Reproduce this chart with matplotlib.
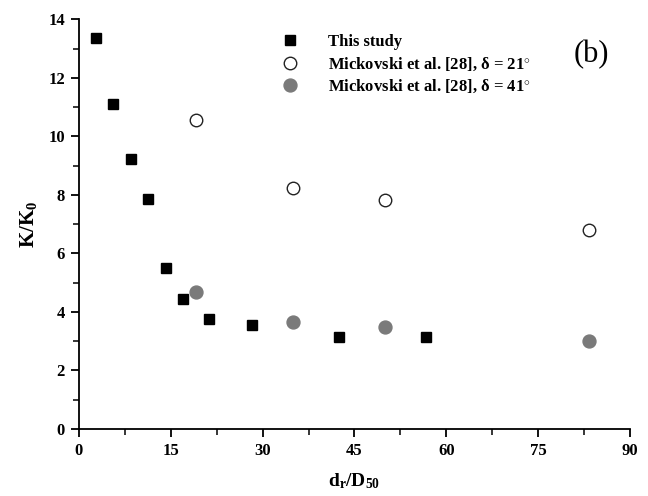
import matplotlib
matplotlib.use("Agg")
import matplotlib.pyplot as plt
from matplotlib.ticker import MultipleLocator

plt.rcParams['font.family'] = ['Liberation Serif', 'DejaVu Serif']
plt.rcParams['mathtext.fontset'] = 'custom'
plt.rcParams['mathtext.rm'] = 'Liberation Serif:bold'
plt.rcParams['mathtext.bf'] = 'Liberation Serif:bold'
plt.rcParams['mathtext.it'] = 'Liberation Serif:bold'

# Data
this_x = [2.75, 5.6, 8.45, 11.3, 14.15, 17.0, 21.3, 28.3, 42.5, 56.7]
this_y = [13.37, 11.09, 9.23, 7.85, 5.51, 4.45, 3.76, 3.56, 3.15, 3.13]
mick_x = [19.1, 34.95, 49.95, 83.25]
mick21_y = [10.57, 8.24, 7.82, 6.80]
mick41_y = [4.66, 3.65, 3.47, 3.01]

labels = ['This study',
          r'Mickovski et al. [28], $\delta$ = 21$^{\circ}$',
          r'Mickovski et al. [28], $\delta$ = 41$^{\circ}$']

fig = plt.figure(figsize=(6.48, 4.96), dpi=100)
ax = fig.add_axes([0.1219, 0.1355, 0.8503, 0.8256])

ax.plot(this_x, this_y, ls='none', marker='s', ms=7.2, color='black', label=labels[0])
ax.plot(mick_x, mick21_y, ls='none', marker='o', ms=9, mfc='white', mec='#222222', mew=1.0, label=labels[1])
ax.plot(mick_x, mick41_y, ls='none', marker='o', ms=9.3, mfc='#7a7a7a', mec='#7a7a7a', label=labels[2])

ax.set_xlim(0, 90)
ax.set_ylim(0, 14)
ax.xaxis.set_major_locator(MultipleLocator(15))
ax.xaxis.set_minor_locator(MultipleLocator(7.5))
ax.yaxis.set_major_locator(MultipleLocator(2))
ax.yaxis.set_minor_locator(MultipleLocator(1))
ax.spines['top'].set_visible(False)
ax.spines['right'].set_visible(False)
for s in ['left', 'bottom']:
    ax.spines[s].set_linewidth(1.3)
ax.tick_params(which='major', direction='out', length=6, width=1.3, labelsize=12, pad=4)
ax.tick_params(which='minor', direction='out', length=4, width=1.1)
for lab in ax.get_xticklabels() + ax.get_yticklabels():
    lab.set_fontweight('bold')

ax.set_xlabel(r'$\mathrm{d_r/D_{50}}$', fontsize=14, labelpad=9)
ax.set_ylabel(r'$\mathrm{K/K_0}$', fontsize=15, labelpad=7)

leg = ax.legend(loc='upper left', bbox_to_anchor=(0.355, 0.98), frameon=False,
                prop={'weight': 'bold', 'size': 12}, handletextpad=1.8,
                labelspacing=0.32, handlelength=1.0, borderaxespad=0)

ax.text(0.963, 0.915, '(b)', transform=ax.transAxes, fontsize=22, ha='right', va='center')

fig.savefig('out.png', dpi=100)
